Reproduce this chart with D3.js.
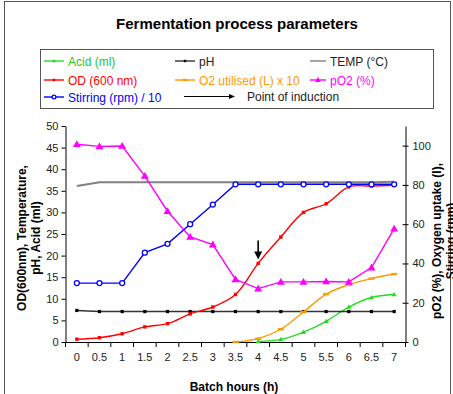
<!DOCTYPE html>
<html>
<head>
<meta charset="utf-8">
<script src="https://cdn.jsdelivr.net/npm/d3@7"></script>
<style>
  body { margin: 0; background: #fff; }
  svg { display: block; font-family: "Liberation Sans", Arial, sans-serif; }
</style>
</head>
<body>
<script>
// batch hours (categories)
var hours = ["0","0.5","1","1.5","2","2.5","3","3.5","4","4.5","5","5.5","6","6.5","7"];

// left axis series
var acid = [null,null,null,null,null,null,null,null,0.15,0.6,2.3,4.8,8.1,10.3,11.0];
var pH = [7.3,7.05,7.05,7.05,7.05,7.05,7.05,7.05,7.05,7.05,7.05,7.05,7.05,7.05,7.05];
var temp = [36.1,37,37,37,37,37,37,37,37,37,37,37,37,37,37.1];
var od = [0.65,1.0,1.9,3.5,4.25,6.5,8.1,11.0,18.2,24.3,30.0,32.0,35.9,36.1,36.3];

// right axis series
var o2Used = [null,null,null,null,null,null,null,0,1.7,6.5,15.3,24.4,29.2,32.3,34.6];
var pO2 = [100.7,99.6,99.8,84.5,66.6,53.5,49.6,31.9,27.2,30.6,30.6,30.8,30.6,37.9,57.7];
var stirring = [30,30,30,45.5,50,60,70,80.3,80.3,80.3,80.3,80.3,80.3,80.3,80.3];

var inductionHour = "4";

var leftTicks = [0,5,10,15,20,25,30,35,40,45,50];
var rightTicks = [0,20,40,60,80,100];

var W = 453, H = 394;
var plot = {left: 65.5, right: 405.5, top: 126, bottom: 342};

var svg = d3.select("body").append("svg")
  .attr("width", W).attr("height", H);

// outer frame
svg.append("rect")
  .attr("x", 4.5).attr("y", 1.5)
  .attr("width", 446).attr("height", 420)
  .attr("fill", "none").attr("stroke", "#555");

var x = d3.scaleBand().domain(hours).range([plot.left, plot.right]).padding(0);
var yL = d3.scaleLinear().domain([0, 50]).range([plot.bottom, plot.top]);
var yR = d3.scaleLinear().domain([0, 110]).range([plot.bottom, plot.top]);
function cx(d, i) { return x(hours[i]) + x.bandwidth() / 2; }

// title
svg.append("text")
  .attr("x", 237).attr("y", 29)
  .attr("text-anchor", "middle")
  .style("font-size", "15px").style("font-weight", "bold")
  .text("Fermentation process parameters");

// axes
var gx = svg.append("g")
  .attr("transform", "translate(0," + plot.bottom + ")")
  .call(d3.axisBottom(x).tickSize(0).tickPadding(11));
gx.select(".domain").attr("stroke", "#000");
gx.selectAll("text").style("font-size", "11px").attr("fill", "#222");
// ticks between categories
gx.selectAll(".sep")
  .data(d3.range(hours.length + 1))
  .enter().append("line")
  .attr("class", "sep")
  .attr("x1", function(i) { return plot.left + i * x.bandwidth(); })
  .attr("x2", function(i) { return plot.left + i * x.bandwidth(); })
  .attr("y1", 0).attr("y2", 5)
  .attr("stroke", "#000");

var gl = svg.append("g")
  .attr("transform", "translate(" + plot.left + ",0)")
  .call(d3.axisLeft(yL).tickValues(leftTicks).tickSize(4).tickSizeOuter(0).tickPadding(3));
gl.selectAll("text").style("font-size", "11px").attr("fill", "#222");

var gr = svg.append("g")
  .attr("transform", "translate(" + plot.right + ",0)")
  .call(d3.axisRight(yR).tickValues(rightTicks).tickSize(3).tickSizeOuter(0).tickPadding(4));
gr.selectAll(".tick line").attr("x1", -3);
gr.selectAll("text").style("font-size", "11px").attr("fill", "#222");

// axis titles
svg.append("text")
  .attr("x", 234).attr("y", 391)
  .attr("text-anchor", "middle")
  .style("font-size", "12px").style("font-weight", "bold")
  .text("Batch hours (h)");

var lt = svg.append("text")
  .attr("transform", "translate(26,238) rotate(-90)")
  .attr("text-anchor", "middle")
  .style("font-size", "12px").style("font-weight", "bold");
lt.append("tspan").attr("x", 0).attr("y", 0).text("OD(600nm), Temperature,");
lt.append("tspan").attr("x", 0).attr("y", 14).text("pH, Acid (ml)");

// the second line is clipped by the frame edge, as in the source image
var rt = svg.append("text")
  .attr("transform", "translate(441,241) rotate(-90)")
  .attr("text-anchor", "middle")
  .style("font-size", "12px").style("font-weight", "bold");
rt.append("tspan").attr("x", 0).attr("y", 0).text("pO2 (%), Oxygen uptake (l),");
rt.append("tspan").attr("x", 0).attr("y", 14).text("Stirring (rpm)");

// series definitions
var series = [
  {name: "Acid (ml)", values: acid, y: yL, color: "#22dd22", marker: "tri", size: 2.6, smooth: true},
  {name: "pH", values: pH, y: yL, color: "#333", marker: "sq", size: 3.2, mcolor: "#000"},
  {name: "TEMP (°C)", values: temp, y: yL, color: "#808080", marker: null, width: 2},
  {name: "OD (600 nm)", values: od, y: yL, color: "#ff0000", marker: "sq", size: 3.4, smooth: true},
  {name: "O2 utilised (L) x 10", values: o2Used, y: yR, color: "#ff9900", marker: "dash", size: 3, smooth: true},
  {name: "pO2 (%)", values: pO2, y: yR, color: "#ff00ff", marker: "tri", size: 4},
  {name: "Stirring (rpm) / 10", values: stirring, y: yR, color: "#0000ff", marker: "circ", size: 2.5}
];

function drawMarker(g, s, px, py, k) {
  var c = s.mcolor || s.color;
  var sz = s.size * (k || 1);
  if (s.marker === "tri") {
    g.append("path")
      .attr("d", "M" + px + "," + (py - sz) + "L" + (px + sz) + "," + (py + sz * 0.7) + "L" + (px - sz) + "," + (py + sz * 0.7) + "Z")
      .attr("fill", c);
  } else if (s.marker === "sq") {
    g.append("rect")
      .attr("x", px - sz / 2).attr("y", py - sz / 2)
      .attr("width", sz).attr("height", sz)
      .attr("fill", c);
  } else if (s.marker === "dash") {
    g.append("rect")
      .attr("x", px - sz).attr("y", py - 1.2)
      .attr("width", sz * 2).attr("height", 2.4)
      .attr("fill", c);
  } else if (s.marker === "circ") {
    g.append("circle")
      .attr("cx", px).attr("cy", py).attr("r", sz)
      .attr("fill", "#fff").attr("stroke", c).attr("stroke-width", 1.3);
  }
}

var plotG = svg.append("g");
series.forEach(function(s) {
  var pts = [];
  s.values.forEach(function(v, i) {
    if (v !== null) pts.push([cx(v, i), s.y(v)]);
  });
  var line = d3.line().curve(s.smooth ? d3.curveCatmullRom.alpha(0.5) : d3.curveLinear);
  var g = plotG.append("g");
  g.append("path")
    .attr("d", line(pts))
    .attr("fill", "none")
    .attr("stroke", s.color)
    .attr("stroke-width", s.width || 1.4);
  if (s.marker) pts.forEach(function(p) { drawMarker(g, s, p[0], p[1]); });
});

// point of induction arrow
var ix = x(inductionHour) + x.bandwidth() / 2;
var iy = yL(od[hours.indexOf(inductionHour)]);
svg.append("line")
  .attr("x1", ix).attr("x2", ix)
  .attr("y1", iy - 23).attr("y2", iy - 11)
  .attr("stroke", "#000").attr("stroke-width", 1.6);
svg.append("path")
  .attr("d", "M" + (ix - 4) + "," + (iy - 12) + "L" + (ix + 4) + "," + (iy - 12) + "L" + ix + "," + (iy - 4) + "Z")
  .attr("fill", "#000");

// legend
var legend = svg.append("g");
legend.append("rect")
  .attr("x", 40.5).attr("y", 49.5)
  .attr("width", 393).attr("height", 59)
  .attr("fill", "#fff").attr("stroke", "#555");

var legendPos = [
  [44, 61], [175, 61], [310, 61],
  [44, 80], [175, 80], [310, 80],
  [44, 97]
];
series.forEach(function(s, i) {
  var p = legendPos[i];
  var lx2 = i % 3 === 2 ? p[0] + 16 : p[0] + 20;
  var g = legend.append("g");
  g.append("line")
    .attr("x1", p[0]).attr("x2", lx2)
    .attr("y1", p[1]).attr("y2", p[1])
    .attr("stroke", s.color).attr("stroke-width", 1.4);
  if (s.marker) drawMarker(g, s, (p[0] + lx2) / 2, p[1], 0.75);
  var textColor = (s.name === "pH" || s.name === "TEMP (°C)") ? "#222" : s.color;
  if (s.name === "Acid (ml)") textColor = "#22cc22";
  g.append("text")
    .attr("x", lx2 + 4).attr("y", p[1] + 4.5)
    .style("font-size", "12px")
    .attr("fill", textColor)
    .text(s.name);
});
// arrow entry
legend.append("line")
  .attr("x1", 184).attr("x2", 232)
  .attr("y1", 96.5).attr("y2", 96.5)
  .attr("stroke", "#000").attr("stroke-width", 1);
legend.append("path")
  .attr("d", "M229,94L235,96.5L229,99Z")
  .attr("fill", "#000");
legend.append("text")
  .attr("x", 247).attr("y", 101)
  .style("font-size", "12px").attr("fill", "#222")
  .text("Point of induction");
</script>
</body>
</html>
